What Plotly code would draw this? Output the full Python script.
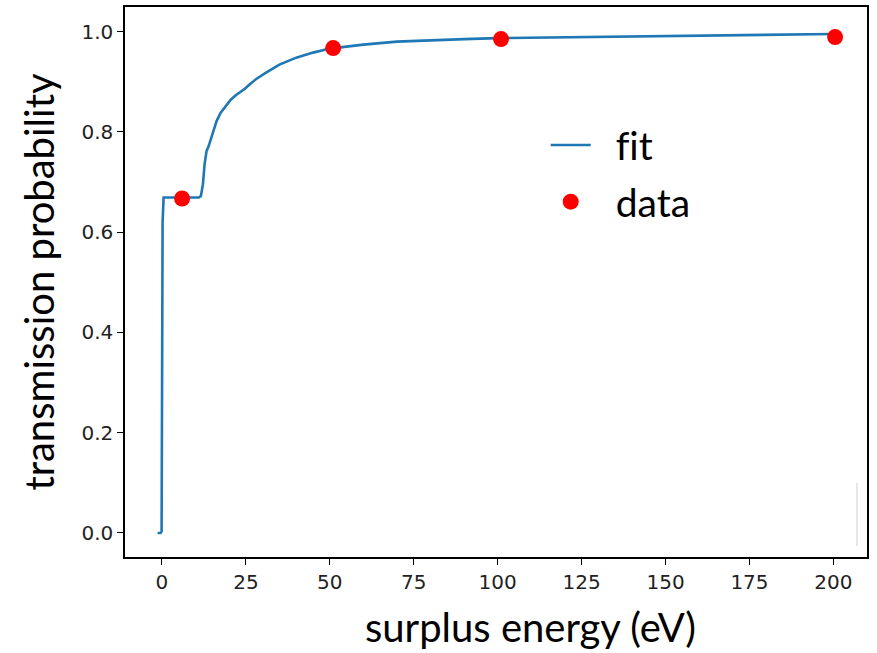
import plotly.graph_objects as go

# fitted transmission curve (surplus energy in eV, probability)
fit_energy = [-1.3, -0.4, -0.1, 0.0, 0.2, 0.5, 5.0, 11.0, 11.6, 12.2, 12.7, 13.3, 13.9,
              15.0, 16.3, 17.5, 19.0, 20.5, 22.0, 23.5, 24.7, 26.0, 28.0, 31.0, 35.0,
              40.0, 45.0, 50.0, 60.0, 70.0, 80.0, 90.0, 100.0, 125.0, 150.0, 175.0, 200.0]
fit_prob = [0.0, 0.0, 0.003, 0.3, 0.62, 0.669, 0.669, 0.669, 0.672, 0.695, 0.735, 0.762, 0.771,
            0.795, 0.822, 0.838, 0.852, 0.864, 0.873, 0.880, 0.886, 0.894, 0.905, 0.918, 0.934,
            0.948, 0.958, 0.966, 0.974, 0.980, 0.983, 0.985, 0.987, 0.989, 0.991, 0.993, 0.995]

# measured points
data_energy = [6.0, 51.0, 101.0, 200.5]
data_prob = [0.667, 0.967, 0.985, 0.989]

x_ticks = [0, 25, 50, 75, 100, 125, 150, 175, 200]
y_ticks = [0.0, 0.2, 0.4, 0.6, 0.8, 1.0]

fig = go.Figure()
fig.add_trace(go.Scatter(
    x=fit_energy, y=fit_prob, mode="lines", name="\u00a0\u00a0f\u200cit",
    legendgroup="fit",
    line=dict(color="#1f77b4", width=2.6),
))
fig.add_trace(go.Scatter(
    x=data_energy, y=data_prob, mode="markers", name="\u00a0\u00a0data",
    legendgroup="data",
    marker=dict(color="#ff0000", size=16, line=dict(width=0)),
))

axis_common = dict(
    showline=True, linecolor="black", linewidth=1.5, mirror=True,
    ticks="outside", ticklen=6, tickwidth=1.2, tickcolor="black",
    showgrid=False, zeroline=False,
    tickfont=dict(family="DejaVu Sans", size=20, color="#222"),
)

fig.update_layout(
    width=877, height=653,
    margin=dict(l=125, r=10, t=5, b=96),
    paper_bgcolor="white", plot_bgcolor="white",
    xaxis=dict(range=[-11, 210], tickvals=x_ticks, **axis_common),
    yaxis=dict(range=[-0.048, 1.049], tickvals=y_ticks, tickformat=".1f",
               title=dict(text="transmission probability", standoff=14,
                          font=dict(family="Lato", size=40, color="black")),
               **axis_common),
    legend=dict(x=0.567, y=0.807, xanchor="left", yanchor="top",
                font=dict(family="Lato", size=39, color="black"),
                bgcolor="rgba(0,0,0,0)", itemwidth=40,
                traceorder="grouped", tracegroupgap=3),
    showlegend=True,
)

# x-axis label, set a little right of the axis centre
fig.add_annotation(text="surplus energy (eV)", xref="paper", yref="paper",
                   x=0.547, y=0, xanchor="center", yanchor="top", yshift=-44,
                   showarrow=False,
                   font=dict(family="Lato", size=40, color="black"))

# faint vertical rule near the right edge
fig.add_shape(type="line", xref="paper", yref="paper",
              x0=0.9865, x1=0.9865, y0=0.02, y1=0.135,
              line=dict(color="#d0d0d0", width=1))

fig.write_html("out.html")
